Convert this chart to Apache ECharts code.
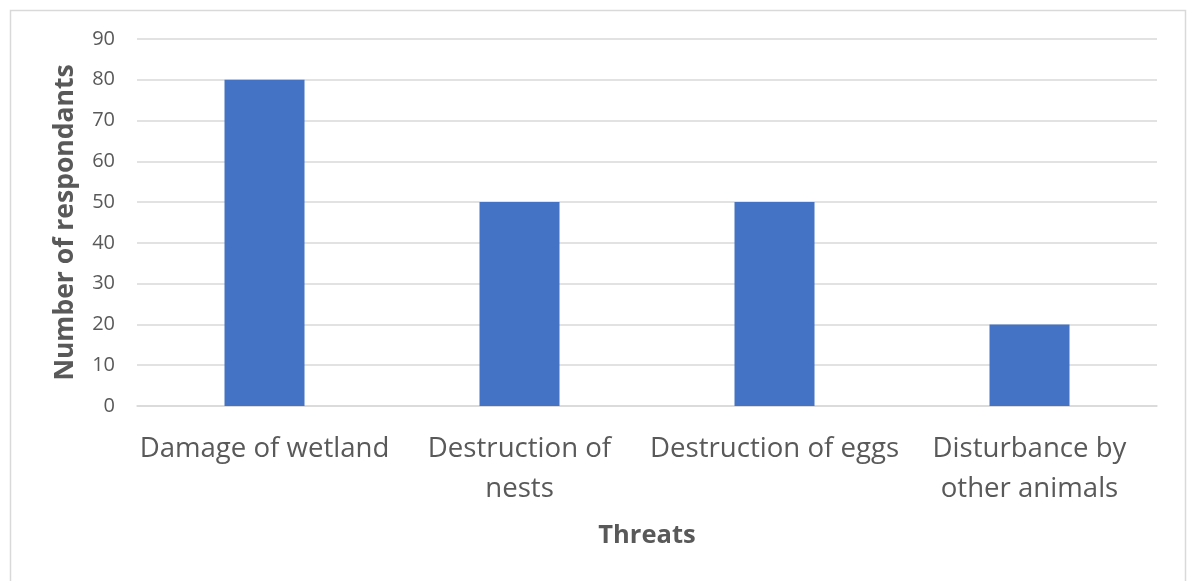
<!DOCTYPE html>
<html>
<head>
<meta charset="utf-8">
<script src="https://cdn.jsdelivr.net/npm/echarts@6/dist/echarts.min.js"></script>
<style>
  html, body { margin: 0; padding: 0; background: #fff; }
  #chart { width: 1188px; height: 581px; }
</style>
</head>
<body>
<div id="chart"></div>
<script>
// Survey responses: perceived threats
const categories = [
  'Damage of wetland',
  'Destruction of\nnests',
  'Destruction of eggs',
  'Disturbance by\nother animals'
];
const respondents = [80, 50, 50, 20];
const yTicks = { min: 0, max: 90, interval: 10 };

const FONT = '"Open Sans", "Noto Sans", sans-serif';
const TEXT = '#595959';

const chart = echarts.init(document.getElementById('chart'), null, { renderer: 'canvas' });
chart.setOption({
  animation: false,
  backgroundColor: '#ffffff',
  graphic: [{
    type: 'rect',
    shape: { x: 10.5, y: 10.5, width: 1175, height: 600 },
    style: { fill: 'none', stroke: '#d9d9d9', lineWidth: 1.5 },
    silent: true,
    z: -1
  }],
  grid: { left: 137, right: 31, top: 39, bottom: 175, containLabel: false },
  xAxis: {
    type: 'category',
    data: categories,
    name: 'Threats',
    nameLocation: 'middle',
    nameGap: 117,
    nameTextStyle: { fontFamily: FONT, fontSize: 25.5, fontWeight: 'bold', color: TEXT },
    axisLine: { show: true, lineStyle: { color: '#d9d9d9', width: 1.5 } },
    axisTick: { show: false },
    axisLabel: {
      fontFamily: FONT, fontSize: 27.6, color: TEXT,
      lineHeight: 40, margin: 23, interval: 0
    }
  },
  yAxis: {
    type: 'value',
    min: yTicks.min, max: yTicks.max, interval: yTicks.interval,
    name: 'Number of respondants',
    nameLocation: 'middle',
    nameGap: 58,
    nameTextStyle: { fontFamily: FONT, fontSize: 26.5, fontWeight: 'bold', color: TEXT },
    axisLine: { show: false },
    axisTick: { show: false },
    axisLabel: { fontFamily: FONT, fontSize: 20, color: TEXT, margin: 22 },
    splitLine: { lineStyle: { color: '#d9d9d9', width: 1.5 } }
  },
  series: [{
    type: 'bar',
    data: respondents,
    barWidth: 80,
    itemStyle: { color: '#4472C4' }
  }]
});
</script>
</body>
</html>
